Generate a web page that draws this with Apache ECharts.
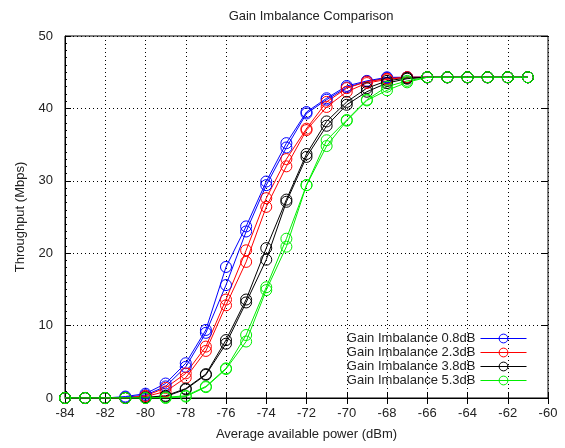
<!DOCTYPE html>
<html>
<head>
<meta charset="utf-8">
<script src="https://cdn.jsdelivr.net/npm/echarts@6/dist/echarts.min.js"></script>
<style>
  html, body { margin: 0; padding: 0; background: #fff; }
  #chart { width: 565px; height: 448px; }
</style>
</head>
<body>
<div id="chart"></div>
<script>
// x: average available power (dBm), 1 dB steps
var power = [-84, -83, -82, -81, -80, -79, -78, -77, -76, -75, -74, -73,
             -72, -71, -70, -69, -68, -67, -66, -65, -64, -63, -62, -61];

// two runs per gain imbalance setting (Mbps)
var gain08a = [0, 0, 0, 0.2, 0.6, 2.0, 4.8, 9.4, 18.1, 23.7, 29.9, 35.2, 39.5, 41.4, 43.1, 43.8, 44.3, 44.3, 44.3, 44.3, 44.3, 44.3, 44.3, 44.3];
var gain08b = [0, 0, 0, 0.1, 0.4, 1.6, 4.3, 9.0, 15.6, 23.0, 29.4, 34.6, 39.3, 41.2, 42.9, 43.7, 44.2, 44.3, 44.3, 44.3, 44.3, 44.3, 44.3, 44.3];
var gain23a = [0, 0, 0, 0, 0.3, 1.4, 3.4, 7.1, 13.6, 20.4, 27.6, 33.0, 37.2, 40.9, 42.8, 43.7, 44.1, 44.3, 44.3, 44.3, 44.3, 44.3, 44.3, 44.3];
var gain23b = [0, 0, 0, 0, 0.2, 0.9, 2.8, 6.5, 12.8, 18.8, 26.4, 32.0, 37.0, 40.2, 42.3, 43.5, 44.0, 44.3, 44.3, 44.3, 44.3, 44.3, 44.3, 44.3];
var gain38a = [0, 0, 0, 0, 0.1, 0.3, 1.3, 3.3, 8.0, 13.6, 20.7, 27.4, 33.7, 38.2, 40.9, 42.8, 43.8, 44.2, 44.3, 44.3, 44.3, 44.3, 44.3, 44.3];
var gain38b = [0, 0, 0, 0, 0, 0.2, 1.2, 3.2, 7.5, 13.2, 19.1, 27.1, 33.3, 37.6, 40.5, 42.3, 43.5, 44.1, 44.3, 44.3, 44.3, 44.3, 44.3, 44.3];
var gain53a = [0, 0, 0, 0, 0, 0.1, 0.3, 1.6, 4.1, 8.7, 15.3, 22.0, 29.4, 35.6, 38.4, 41.2, 43.0, 43.8, 44.3, 44.3, 44.3, 44.3, 44.3, 44.3];
var gain53b = [0, 0, 0, 0, 0, 0, 0.2, 1.5, 4.0, 7.8, 14.9, 20.9, 29.4, 34.8, 38.3, 41.1, 42.5, 43.6, 44.3, 44.3, 44.3, 44.3, 44.3, 44.3];

var names = ['Gain Imbalance 0.8dB', 'Gain Imbalance 2.3dB', 'Gain Imbalance 3.8dB', 'Gain Imbalance 5.3dB'];
var colors = ['#0000ff', '#ff0000', '#000000', '#00ee00'];

var myChart = echarts.init(document.getElementById('chart'));
var font = 'Liberation Sans, Arial, sans-serif';

function pairs(ys) {
    var out = [];
    for (var i = 0; i < power.length; i++) {
        out.push([power[i], ys[i]]);
    }
    return out;
}

// hollow circles: transparent fill, thin coloured ring, line shows through
function makeSeries(name, color, ys) {
    return {
        name: name,
        type: 'line',
        data: pairs(ys),
        symbol: 'circle',
        symbolSize: 11,
        color: color,
        lineStyle: { width: 1, color: color },
        itemStyle: { color: 'rgba(255,255,255,0)', borderColor: color, borderWidth: 1 },
        emphasis: { disabled: true },
        animation: false
    };
}

var runs = [[gain08a, gain08b], [gain23a, gain23b], [gain38a, gain38b], [gain53a, gain53b]];
var series = [];
for (var k = 0; k < names.length; k++) {
    series.push(makeSeries(names[k], colors[k], runs[k][0]));
    series.push(makeSeries(names[k], colors[k], runs[k][1]));
}

var tickStyle = { show: true, inside: true, length: 6, lineStyle: { color: '#000' } };
var minorStyle = { show: true, splitNumber: 10, length: 2, lineStyle: { color: '#000' } };

option = {
    backgroundColor: '#fff',
    title: {
        text: 'Gain Imbalance Comparison',
        left: 306,
        textAlign: 'center',
        top: 5,
        textStyle: { fontFamily: font, fontSize: 13, fontWeight: 'normal', color: '#222' }
    },
    legend: {
        data: names,
        orient: 'vertical',
        right: 33,
        top: 327,
        align: 'right',
        itemWidth: 46,
        itemHeight: 11,
        itemGap: 1,
        itemStyle: { borderWidth: 1 },
        lineStyle: { width: 1 },
        textStyle: { fontFamily: font, fontSize: 13, color: '#222' }
    },
    grid: {
        left: 65,
        right: 17,
        top: 36,
        bottom: 50,
        show: true,
        borderColor: '#000',
        borderWidth: 1
    },
    xAxis: [
        {
            type: 'value',
            min: -84,
            max: -60,
            interval: 2,
            name: 'Average available power (dBm)',
            nameLocation: 'middle',
            nameGap: 30,
            nameTextStyle: { fontFamily: font, fontSize: 13, color: '#222' },
            axisLine: { show: true, lineStyle: { color: '#000' } },
            axisTick: tickStyle,
            axisLabel: { fontFamily: font, fontSize: 13, color: '#222', margin: 9 },
            splitLine: { show: true, lineStyle: { color: '#000', type: [1, 3], width: 1 } }
        },
        {
            type: 'value',
            position: 'top',
            min: -84,
            max: -60,
            interval: 2,
            axisLine: { show: false },
            axisTick: tickStyle,
            axisLabel: { show: false },
            splitLine: { show: false }
        }
    ],
    yAxis: [
        {
            type: 'value',
            min: 0,
            max: 50,
            interval: 10,
            name: 'Throughput (Mbps)',
            nameLocation: 'middle',
            nameGap: 38,
            nameTextStyle: { fontFamily: font, fontSize: 13, color: '#222' },
            axisLine: { show: true, lineStyle: { color: '#000' } },
            axisTick: tickStyle,
            minorTick: minorStyle,
            axisLabel: { fontFamily: font, fontSize: 13, color: '#222', margin: 12 },
            splitLine: { show: true, lineStyle: { color: '#000', type: [1, 3], width: 1 } }
        },
        {
            type: 'value',
            position: 'right',
            min: 0,
            max: 50,
            interval: 10,
            axisLine: { show: false },
            axisTick: tickStyle,
            axisLabel: { show: false },
            splitLine: { show: false }
        }
    ],
    series: series
};

myChart.setOption(option);
</script>
</body>
</html>
